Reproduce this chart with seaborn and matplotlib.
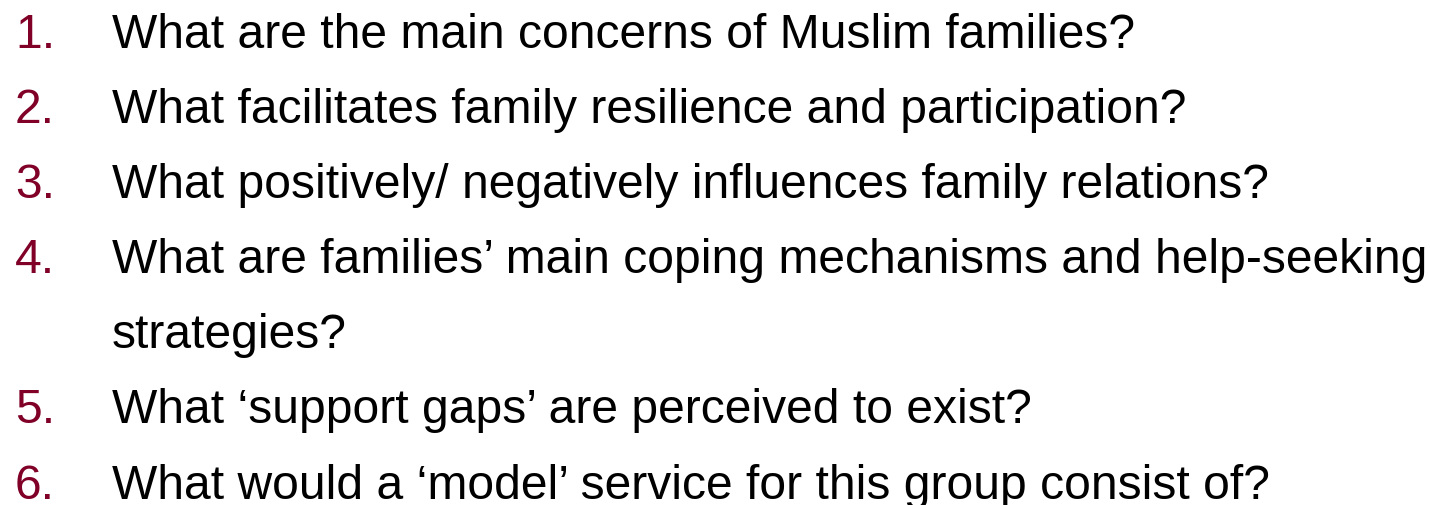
import matplotlib
matplotlib.use("Agg")
import matplotlib.pyplot as plt
import seaborn as sns

# list content
numbers = ["1.", "2.", "3.", "4.", "", "5.", "6."]
questions = [
    "What are the main concerns of Muslim families?",
    "What facilitates family resilience and participation?",
    "What positively/ negatively influences family relations?",
    "What are families\u2019 main coping mechanisms and help-seeking",
    "strategies?",
    "What \u2018support gaps\u2019 are perceived to exist?",
    "What would a \u2018model\u2019 service for this group consist of?",
]

sns.set_theme(style="white")
plt.rcParams['font.family'] = ['Liberation Sans', 'DejaVu Sans']

fig = plt.figure(figsize=(14.3, 5.06), dpi=100)
ax = fig.add_axes([0, 0, 1, 1])
ax.set_xlim(0, 1430)
ax.set_ylim(506, 0)
ax.axis("off")

num_color = "#800028"
first_base = 47.5
step = 75.2
fs = 34.6

for i, (n, q) in enumerate(zip(numbers, questions)):
    y = first_base + i * step
    if n:
        ax.text(15, y, n, color=num_color, fontsize=fs, va="baseline", ha="left")
    ax.text(111.5, y, q, color="black", fontsize=fs, va="baseline", ha="left")

fig.savefig("out.png", dpi=100)
